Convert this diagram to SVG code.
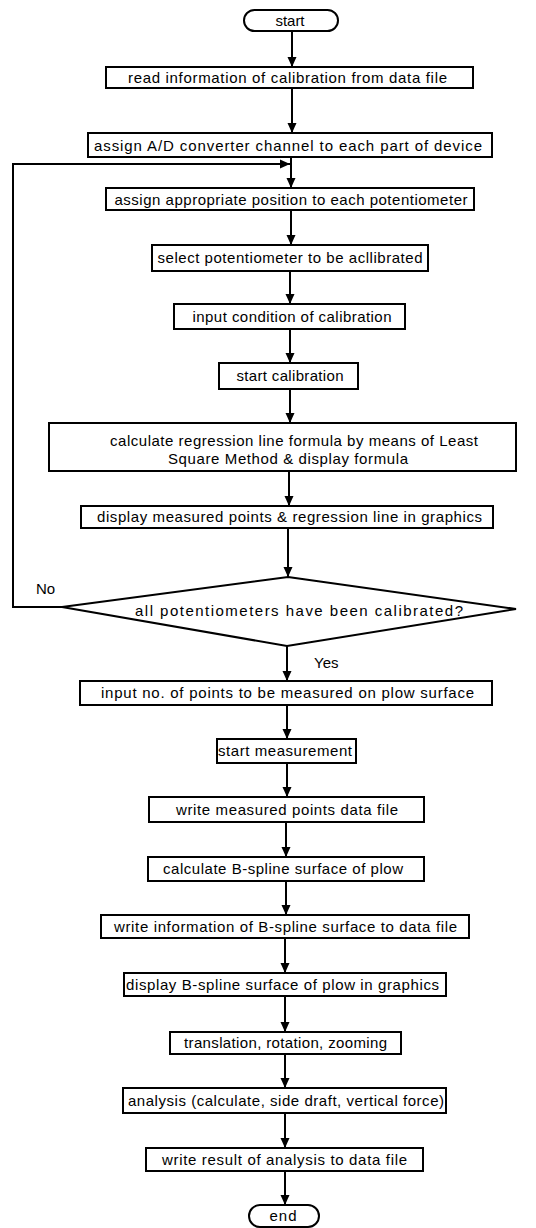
<svg xmlns="http://www.w3.org/2000/svg" width="536" height="1228" viewBox="0 0 536 1228">
<style>
.b{fill:#fff;stroke:#000;stroke-width:2}
.t{font-family:"Liberation Sans",Arial,sans-serif;font-size:15px;fill:#000;text-anchor:middle}
.l{font-family:"Liberation Sans",Arial,sans-serif;font-size:15px;fill:#000}
.c{fill:none;stroke:#000;stroke-width:2}
</style>
<defs>
<marker id="ah" markerUnits="userSpaceOnUse" markerWidth="10" markerHeight="10" refX="10" refY="5" orient="auto">
<path d="M0,0.5 L10,5 L0,9.5 z" fill="#000"/>
</marker>
</defs>
<rect width="536" height="1228" fill="#fff"/>
<g id="connectors">
<path class="c" d="M292,31 V67" marker-end="url(#ah)"/>
<path class="c" d="M292,88 V133" marker-end="url(#ah)"/>
<path class="c" d="M291,157 V188" marker-end="url(#ah)"/>
<path class="c" d="M62,607 H13 V164 H290" marker-end="url(#ah)"/>
<path class="c" d="M291,210 V245" marker-end="url(#ah)"/>
<path class="c" d="M290,271 V304" marker-end="url(#ah)"/>
<path class="c" d="M290,329 V363" marker-end="url(#ah)"/>
<path class="c" d="M290,389 V423" marker-end="url(#ah)"/>
<path class="c" d="M289,471 V506" marker-end="url(#ah)"/>
<path class="c" d="M288,528 V577" marker-end="url(#ah)"/>
<path class="c" d="M287,646 V681" marker-end="url(#ah)"/>
<path class="c" d="M287,705 V739" marker-end="url(#ah)"/>
<path class="c" d="M287,763 V797" marker-end="url(#ah)"/>
<path class="c" d="M286,822 V857" marker-end="url(#ah)"/>
<path class="c" d="M286,881 V915" marker-end="url(#ah)"/>
<path class="c" d="M285,938 V973" marker-end="url(#ah)"/>
<path class="c" d="M285,996 V1032" marker-end="url(#ah)"/>
<path class="c" d="M285,1054 V1088" marker-end="url(#ah)"/>
<path class="c" d="M285,1113 V1148" marker-end="url(#ah)"/>
<path class="c" d="M285,1171 V1205" marker-end="url(#ah)"/>
<text class="l" x="36" y="594">No</text>
<text class="l" x="314" y="668">Yes</text>
</g>
<g id="start"><rect class="b" x="244" y="10" width="94" height="21" rx="10.5"/><text class="t" x="290" y="25.5" textLength="29" lengthAdjust="spacing">start</text></g>
<g id="n1"><rect class="b" x="106" y="67" width="367" height="21"/><text class="t" x="287.5" y="83" textLength="319" lengthAdjust="spacing">read information of calibration from data file</text></g>
<g id="n2"><rect class="b" x="88" y="133" width="404" height="24"/><text class="t" x="288" y="150.5" textLength="388" lengthAdjust="spacing">assign A/D converter channel to each part of device</text></g>
<g id="n3"><rect class="b" x="106" y="188" width="368" height="22"/><text class="t" x="291" y="204.5" textLength="353" lengthAdjust="spacing">assign appropriate position to each potentiometer</text></g>
<g id="n4"><rect class="b" x="152" y="245" width="276" height="26"/><text class="t" x="290" y="263" textLength="265" lengthAdjust="spacing">select potentiometer to be acllibrated</text></g>
<g id="n5"><rect class="b" x="174" y="304" width="231" height="25"/><text class="t" x="292" y="321.5" textLength="199" lengthAdjust="spacing">input condition of calibration</text></g>
<g id="n6"><rect class="b" x="219" y="363" width="139" height="26"/><text class="t" x="290" y="381" textLength="107" lengthAdjust="spacing">start calibration</text></g>
<g id="n7"><rect class="b" x="49" y="423" width="467" height="48"/><text class="t" x="294" y="446" textLength="368" lengthAdjust="spacing">calculate regression line formula by means of Least</text><text class="t" x="288" y="463.5" textLength="240" lengthAdjust="spacing">Square Method &amp; display formula</text></g>
<g id="n8"><rect class="b" x="81" y="506" width="412" height="22"/><text class="t" x="289.5" y="522" textLength="385" lengthAdjust="spacing">display measured points &amp; regression line in graphics</text></g>
<g id="d1"><path class="b" d="M288,577 L516,609 L287,646 L62,607 Z"/><text class="t" x="299" y="616" textLength="328" lengthAdjust="spacing">all potentiometers have been calibrated?</text></g>
<g id="n9"><rect class="b" x="80" y="681" width="412" height="24"/><text class="t" x="287.5" y="698" textLength="373" lengthAdjust="spacing">input no. of points to be measured on plow surface</text></g>
<g id="n10"><rect class="b" x="217" y="739" width="139" height="24"/><text class="t" x="285" y="756" textLength="134" lengthAdjust="spacing">start measurement</text></g>
<g id="n11"><rect class="b" x="149" y="797" width="275" height="25"/><text class="t" x="287" y="814.5" textLength="222" lengthAdjust="spacing">write measured points data file</text></g>
<g id="n12"><rect class="b" x="148" y="857" width="276" height="24"/><text class="t" x="283" y="874" textLength="240" lengthAdjust="spacing">calculate B-spline surface of plow</text></g>
<g id="n13"><rect class="b" x="101" y="915" width="368" height="23"/><text class="t" x="285.5" y="931.5" textLength="343" lengthAdjust="spacing">write information of B-spline surface to data file</text></g>
<g id="n14"><rect class="b" x="124" y="973" width="322" height="23"/><text class="t" x="282.5" y="989.5" textLength="313" lengthAdjust="spacing">display B-spline surface of plow in graphics</text></g>
<g id="n15"><rect class="b" x="170" y="1032" width="231" height="22"/><text class="t" x="285.5" y="1048" textLength="203" lengthAdjust="spacing">translation, rotation, zooming</text></g>
<g id="n16"><rect class="b" x="123" y="1088" width="323" height="25"/><text class="t" x="286" y="1105.5" textLength="316" lengthAdjust="spacing">analysis (calculate, side draft, vertical force)</text></g>
<g id="n17"><rect class="b" x="146" y="1148" width="277" height="23"/><text class="t" x="284.5" y="1164.5" textLength="245" lengthAdjust="spacing">write result of analysis to data file</text></g>
<g id="end"><rect class="b" x="249" y="1205" width="70" height="22" rx="11"/><text class="t" x="283" y="1221" textLength="27" lengthAdjust="spacing">end</text></g>
</svg>
